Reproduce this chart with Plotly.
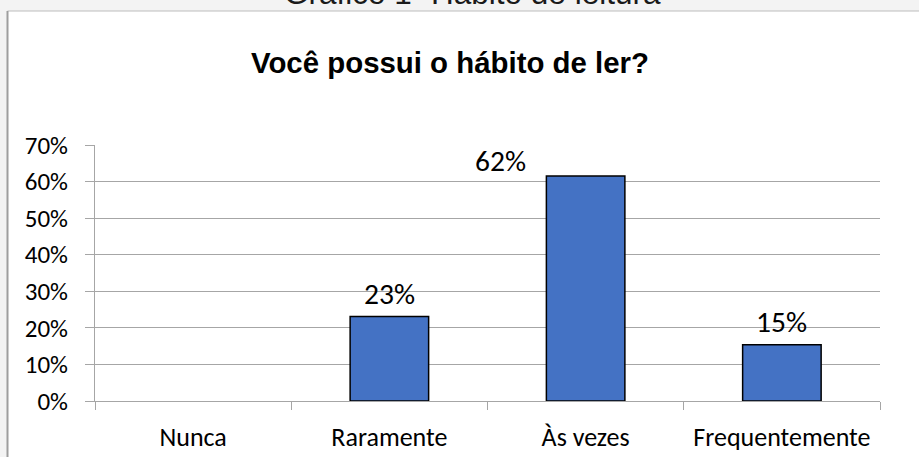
import plotly.graph_objects as go

# ---- data ----
categories = ["Nunca", "Raramente", "Às vezes", "Frequentemente"]
values = [0.0, 0.2308, 0.6154, 0.1538]
y_ticks = [0.0, 0.1, 0.2, 0.3, 0.4, 0.5, 0.6, 0.7]
chart_title = "Você possui o hábito de ler?"
caption = "Gráfico 1- Hábito de leitura"

# ---- layout geometry (pixels) ----
W, H = 919, 457
ML, MR, MT, MB = 95, 39, 145, 56
PW, PH = W - ML - MR, H - MT - MB


def px_x(p):
    return (p - ML) / PW


def px_y(p):
    return (H - MB - p) / PH


GRID = "#a6a6a6"
LABEL_FONT = "Carlito, Lato, 'Open Sans', sans-serif"

fig = go.Figure()
fig.add_trace(go.Bar(
    x=categories, y=values,
    marker=dict(color="#4472C4",
                line=dict(color="#000000", width=[1.5 if v > 0 else 0 for v in values])),
    hoverinfo="skip",
))

# data labels (style offsets kept separate from data)
label_shift = {"Às vezes": (-85, -5)}
annotations = []
for c, v in zip(categories, values):
    if v <= 0:
        continue
    dx, dy = label_shift.get(c, (0, 3))
    annotations.append(dict(
        x=c, y=v, xref="x", yref="y", text=f"{round(v * 100)}%",
        showarrow=False, xanchor="center", yanchor="bottom",
        xshift=dx, yshift=dy,
        font=dict(family=LABEL_FONT, size=29.5, color="#000000"),
    ))

annotations.append(dict(
    x=px_x(450), y=px_y(62), xref="paper", yref="paper", text=f"<b>{chart_title}</b>",
    showarrow=False, xanchor="center", yanchor="middle",
    font=dict(family="Liberation Sans, Arial, sans-serif", size=29.4, color="#000000"),
))
annotations.append(dict(
    x=px_x(472), y=px_y(-7), xref="paper", yref="paper", text=caption,
    showarrow=False, xanchor="center", yanchor="middle",
    font=dict(family="Liberation Sans, Arial, sans-serif", size=31.5, color="#1a1a1a"),
))

shapes = [
    dict(type="rect", xref="paper", yref="paper", layer="below",
         x0=px_x(7.5), x1=px_x(940), y0=px_y(11), y1=px_y(480),
         fillcolor="#ffffff", line=dict(color="#bdbdbd", width=1)),
    dict(type="line", xref="paper", yref="paper", layer="below",
         x0=px_x(7.5), x1=px_x(7.5), y0=px_y(11), y1=px_y(480),
         line=dict(color="#9e9e9e", width=2)),
]

fig.update_layout(
    width=W, height=H,
    margin=dict(l=ML, r=MR, t=MT, b=MB, pad=0, autoexpand=False),
    paper_bgcolor="#f3f3f3", plot_bgcolor="rgba(0,0,0,0)",
    bargap=0.6, showlegend=False,
    annotations=annotations, shapes=shapes,
    xaxis=dict(
        showline=True, linecolor=GRID, linewidth=1, automargin=False,
        ticks="outside", tickson="boundaries", ticklen=8, tickcolor=GRID, tickwidth=1,
        showgrid=False, tickfont=dict(family=LABEL_FONT, size=26, color="#000000"),
        ticklabelstandoff=13, fixedrange=True,
    ),
    yaxis=dict(
        range=[0, 0.7], tickvals=y_ticks, tickformat=".0%", automargin=False,
        showline=True, linecolor=GRID, linewidth=1,
        ticks="outside", ticklen=9, tickcolor=GRID, tickwidth=1,
        showgrid=True, gridcolor=GRID, gridwidth=1, zeroline=False,
        tickfont=dict(family=LABEL_FONT, size=25, color="#000000"),
        ticklabelstandoff=12, fixedrange=True,
    ),
)

fig.write_html(
    "out.html",
    config={"displayModeBar": False},
    post_script="document.body.style.margin='0';document.body.style.overflow='hidden';",
)
